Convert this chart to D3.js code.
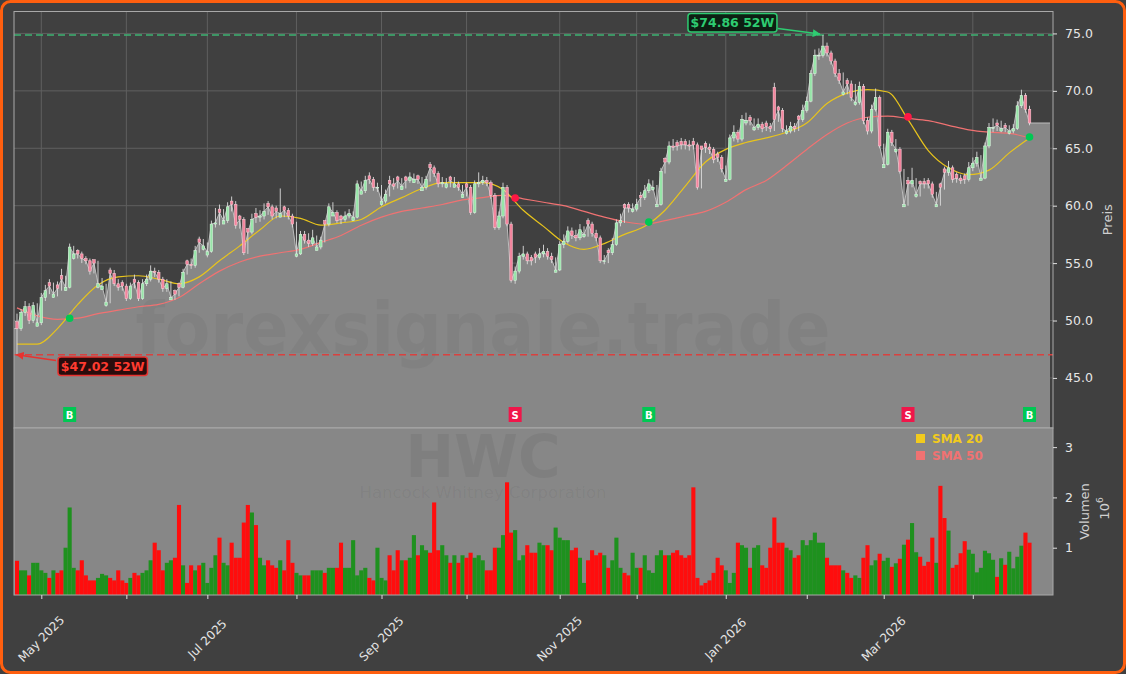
<!DOCTYPE html>
<html>
<head>
<meta charset="utf-8">
<script src="https://cdn.jsdelivr.net/npm/d3@7"></script>
<style>
  body { margin: 0; background: #404040; }
  svg text { font-family: "DejaVu Sans", sans-serif; }
</style>
</head>
<body>
<script>
var w = 1126, h = 674;

// trading calendar (NYSE holidays inside the window)
var holidays = ["2025-05-26", "2025-06-19", "2025-07-04", "2025-09-01", "2025-11-27",
                "2025-12-25", "2026-01-01", "2026-01-19", "2026-02-16", "2026-04-03"];
var tickLabels = ["May 2025", "Jul 2025", "Sep 2025", "Nov 2025", "Jan 2026", "Mar 2026"];
var priceTicks = [45, 50, 55, 60, 65, 70, 75];
var volTicks = [1, 2, 3];

// daily candles
var opens = [49.9,49.3,50.7,51.2,50.0,49.5,49.8,52.0,53.3,52.0, 53.1,53.9,52.6,52.9,55.4,56.1,55.8,55.4,55.2,55.3,
  52.9,52.7,51.3,54.4,54.1,53.2,53.3,53.0,51.9,53.6, 53.3,51.9,53.2,53.6,54.3,54.2,53.6,52.8,51.8,52.6,
  53.2,52.9,55.2,54.9,54.8,57.1,56.2,55.7,56.0,58.4, 59.7,58.4,58.7,60.4,60.1,59.1,58.8,58.0,57.7,59.3,
  59.0,59.1,60.2,59.9,59.8,59.0,59.9,59.6,59.1,55.6, 55.8,57.5,57.0,56.7,56.1,56.4,58.7,58.4,59.1,59.4,
  59.1,58.8,59.1,58.7,59.0,61.0,61.3,62.6,62.3,61.6, 60.1,60.4,62.2,61.9,62.5,61.4,62.5,62.2,62.0,62.6,
  61.3,61.6,63.6,63.3,62.8,61.9,61.6,62.5,61.6,61.9, 60.7,61.9,61.6,59.4,61.9,62.0,62.2,62.0,60.9,58.1,
  59.1,61.6,58.4,53.5,54.3,55.6,55.8,55.5,55.8,55.5, 55.8,56.0,55.6,54.2,54.4,56.6,56.9,57.8,57.4,57.2,
  57.3,58.7,58.4,57.6,57.2,55.2,56.1,55.9,56.6,58.5, 60.1,60.1,59.5,59.7,60.9,60.7,61.3,61.4,59.9,60.1,
  64.1,63.8,65.2,65.5,65.6,65.6,65.3,65.6,65.3,65.2, 65.4,65.1,64.9,64.5,64.2,62.1,62.3,65.9,66.4,65.8,
  67.2,67.7,66.6,66.8,67.1,67.2,66.9,70.3,68.6,68.3, 66.3,66.5,66.9,67.8,67.5,68.3,69.1,71.5,73.1,73.1,
  73.9,73.3,72.6,71.5,69.7,70.9,70.6,68.8,69.0,70.4, 67.4,66.5,68.4,69.4,63.3,63.6,66.4,64.7,64.9,59.9,
  62.2,61.9,60.8,62.1,62.1,62.2,61.9,59.9,61.9,63.2, 62.9,63.3,62.7,62.4,62.6,62.3,63.3,63.7,62.2,62.4,
  65.2,66.8,67.2,66.5,67.0,66.3,66.5,66.7,68.7,69.6, 68.4];
var highs = [50.6,51.0,51.7,51.5,51.6,51.5,52.4,53.1,53.6,53.3, 53.4,54.5,53.9,56.7,56.5,56.2,56.0,55.6,55.4,55.3,
  55.2,53.7,53.2,54.6,54.4,53.6,53.5,53.2,53.3,54.0, 53.5,53.6,54.0,54.8,54.6,54.4,53.8,53.6,53.4,52.7,
  53.3,54.5,55.3,55.4,56.5,57.3,57.1,56.8,58.7,59.8, 60.1,59.7,60.3,60.8,60.4,59.2,59.0,58.0,59.3,59.8,
  59.6,60.2,60.4,60.1,60.0,61.5,60.0,59.8,59.3,58.6, 57.8,57.8,57.6,57.9,57.4,57.3,58.7,60.2,60.3,59.6,
  59.2,59.5,59.7,59.5,62.2,62.1,62.6,62.9,62.5,62.0, 61.8,61.4,62.6,62.4,62.6,62.4,62.6,62.9,62.8,62.7,
  62.5,62.6,63.8,63.5,63.0,62.5,62.4,62.6,62.5,62.1, 61.8,62.0,61.8,62.2,62.9,62.6,62.5,62.2,61.1,59.5,
  62.0,61.8,58.6,54.7,55.9,56.5,56.0,55.7,56.0,56.3, 56.6,56.3,55.9,55.5,56.9,57.5,58.2,58.1,57.9,58.4,
  58.2,58.9,58.6,57.9,57.4,55.7,56.3,57.2,58.8,59.3, 60.2,60.3,60.2,60.6,61.2,61.8,62.3,62.2,61.8,63.3,
  64.2,65.6,65.8,65.7,65.9,65.8,65.7,65.9,65.5,65.2, 65.6,65.4,65.1,64.7,64.4,63.5,66.2,67.0,66.6,67.9,
  68.1,67.9,67.6,67.6,67.3,67.4,67.2,70.7,68.7,68.5, 67.0,67.3,67.2,67.9,68.8,69.5,71.8,73.6,73.7,74.86,
  74.2,73.5,72.8,71.9,71.6,71.1,70.9,70.6,70.8,70.6, 67.7,68.8,70.2,69.6,65.4,66.7,66.6,65.8,65.1,63.2,
  62.5,63.3,62.4,62.2,62.4,62.4,62.1,61.2,62.0,63.4, 63.9,63.5,62.9,62.7,62.8,63.8,64.2,64.7,64.4,65.5,
  67.2,67.6,67.5,67.4,67.2,67.0,67.1,69.1,70.1,69.8, 68.7];
var lows = [47.02,49.1,50.4,49.7,49.8,49.5,49.6,51.7,52.3,52.0, 52.1,52.6,52.6,52.8,55.3,55.4,55.0,54.9,54.0,54.1,
  52.8,52.7,51.2,51.5,53.0,52.6,52.6,51.7,51.8,52.8, 51.7,51.8,53.0,53.4,53.8,53.3,52.5,52.5,51.8,51.8,
  52.1,52.8,54.0,54.5,54.6,55.9,56.1,55.5,55.9,58.1, 58.3,58.4,58.5,59.5,58.0,58.0,55.7,55.8,57.5,58.5,
  58.6,58.8,59.2,58.8,58.9,59.0,59.0,58.8,58.1,55.5, 55.7,56.7,56.4,56.5,56.1,56.2,56.8,58.2,59.1,58.5,
  58.4,58.6,58.9,58.7,58.9,61.0,61.1,61.9,61.3,61.2, 60.0,60.2,60.8,61.4,61.5,61.4,61.5,62.0,62.0,61.9,
  61.3,61.4,62.1,62.5,61.6,61.6,61.5,61.6,61.6,61.3, 60.7,60.8,59.2,59.3,61.6,61.8,61.7,60.6,57.9,57.9,
  58.9,58.2,53.3,53.2,54.1,55.3,54.9,54.8,55.0,55.3, 55.5,55.3,55.0,54.2,54.3,56.3,56.7,57.1,56.9,57.0,
  57.2,57.3,57.3,56.9,55.0,54.9,55.0,55.7,56.5,58.2, 58.5,59.4,59.4,59.5,59.9,60.5,61.1,61.3,59.9,60.0,
  62.8,63.6,64.8,64.8,64.9,64.9,64.8,64.9,61.4,61.5, 64.6,64.5,63.7,63.8,62.9,62.1,62.2,65.6,65.5,65.6,
  67.0,67.0,66.5,66.6,66.4,66.5,66.4,66.5,67.3,66.4, 66.2,66.3,66.4,66.5,67.3,68.1,69.0,71.3,72.7,72.9,
  73.0,72.3,71.2,70.6,69.6,69.7,69.1,68.7,68.8,67.1, 66.2,66.3,68.2,65.0,63.3,63.5,65.2,64.6,62.8,59.9,
  60.0,61.6,60.7,60.8,61.5,61.5,60.7,59.9,60.0,61.4, 62.6,62.0,62.0,61.9,61.9,62.1,63.0,63.4,62.2,62.3,
  65.0,66.4,66.5,66.4,66.4,66.2,66.3,66.6,68.5,68.1, 67.0];
var closes = [49.3,50.7,51.2,50.0,51.3,49.8,52.0,52.6,53.0,52.3, 52.8,53.6,52.9,56.4,55.8,55.8,55.4,55.2,54.3,55.0,
  53.2,53.0,51.6,54.1,53.2,52.9,53.0,51.9,53.0,53.3, 51.9,53.2,53.6,54.3,54.2,53.6,52.8,53.2,52.0,52.3,
  52.9,54.2,54.9,54.8,56.1,56.8,56.5,56.0,58.4,58.5, 59.4,58.7,59.9,60.1,58.3,58.8,55.9,57.7,58.8,59.0,
  59.1,59.5,59.9,59.1,59.5,59.3,59.6,59.1,58.4,55.8, 57.5,57.0,56.7,57.2,56.4,57.0,58.4,59.9,59.4,58.7,
  58.8,59.1,59.3,59.0,61.9,61.3,62.2,62.3,61.6,61.6, 60.4,61.0,61.9,61.7,62.2,61.7,62.2,62.5,62.3,62.3,
  61.6,62.3,63.3,62.8,61.9,62.0,61.9,62.2,61.9,61.6, 61.0,61.6,59.4,61.9,62.0,62.2,62.0,60.9,58.1,59.1,
  61.6,58.4,53.5,54.3,55.6,55.8,55.2,55.2,55.5,55.8, 56.0,55.6,55.3,54.4,56.6,56.9,57.8,57.4,57.2,57.9,
  57.5,58.4,57.6,57.2,55.2,55.2,55.9,56.6,58.5,58.7, 59.8,59.8,59.7,60.1,60.7,61.3,61.9,61.6,60.1,63.0,
  63.8,65.2,65.1,65.2,65.3,65.3,65.2,65.3,61.6,64.9, 65.1,64.9,64.0,64.2,63.2,62.3,65.9,66.4,65.8,67.5,
  67.4,67.4,66.8,67.1,66.7,66.9,66.7,67.5,68.3,66.7, 66.5,66.9,66.7,67.5,68.3,69.1,71.5,73.1,73.1,73.9,
  73.3,72.6,71.5,70.9,69.9,70.6,69.4,69.0,70.4,67.4, 66.5,68.4,69.4,65.2,63.6,66.4,65.5,64.9,63.0,60.1,
  61.9,62.2,61.0,61.9,61.9,61.9,61.0,60.1,61.6,62.9, 63.3,62.3,62.4,62.2,62.3,63.3,63.7,64.2,62.4,65.2,
  66.8,66.8,67.0,66.7,66.8,66.5,66.7,68.7,69.6,68.4, 67.2];
// volume in millions
var volumes = [0.74,0.55,0.55,0.45,0.7,0.7,0.55,0.5,0.4,0.55, 0.5,0.55,1.0,1.8,0.6,0.55,0.75,0.45,0.35,0.35,
  0.4,0.48,0.45,0.4,0.35,0.55,0.35,0.3,0.4,0.5, 0.45,0.5,0.55,0.75,1.1,0.95,0.55,0.7,0.75,0.8,
  1.85,0.65,0.3,0.65,0.55,0.65,0.7,0.3,0.6,0.85, 1.2,0.7,0.65,1.1,0.8,0.8,1.5,1.85,1.7,1.45,
  0.8,0.65,0.75,0.65,0.6,0.75,0.55,1.15,0.7,0.5, 0.45,0.45,0.45,0.55,0.55,0.55,0.5,0.6,0.6,0.6,
  1.1,0.6,0.6,1.15,0.45,0.55,0.6,0.4,0.35,1.0, 0.4,0.35,0.85,0.55,0.95,0.75,0.75,0.8,1.25,0.85,
  1.05,0.95,0.9,1.9,0.95,1.05,0.85,0.7,0.85,0.7, 0.85,0.8,0.9,0.8,0.85,0.75,0.55,0.55,1.0,1.0,
  1.25,2.3,1.3,1.35,0.75,0.85,1.05,0.9,0.9,1.1, 1.05,1.05,0.95,1.4,1.2,1.15,1.15,0.95,1.0,0.8,
  0.3,0.75,0.95,0.85,0.9,0.85,0.6,0.75,1.2,0.6, 0.5,0.45,0.9,0.6,0.6,0.85,0.55,0.5,0.85,0.95,
  0.85,0.85,0.9,0.95,0.85,0.8,0.85,2.2,0.4,0.25, 0.3,0.35,0.5,0.8,0.65,0.55,0.3,0.5,1.1,1.05,
  1.0,0.6,1.0,1.05,0.65,0.6,1.0,1.6,1.1,1.1, 1.0,0.95,0.8,0.85,1.15,1.05,1.15,1.3,1.1,1.1,
  0.8,0.65,0.65,0.65,0.55,0.5,0.4,0.45,0.4,0.8, 1.05,0.65,0.75,0.88,0.74,0.8,0.62,0.69,0.78,1.06,
  1.16,1.49,0.91,0.82,0.64,0.72,1.2,0.7,2.23,1.59, 1.34,0.6,0.66,0.89,1.13,0.96,0.88,0.51,0.6,0.94,
  0.89,0.76,0.42,0.79,0.66,0.92,0.59,0.82,1.04,1.3, 1.1];

// moving averages, read every 5 trading days
var smaStep = 5;
var sma20 = [47.95,47.95,49.3,51.4,53.1,53.8,53.9,53.6,53.2,53.8, 55.2,56.5,57.9,59.1,58.9,58.3,58.5,58.8,59.9,60.7,
  61.5,62.0,62.0,62.0,61.4,59.6,58.2,56.8,56.2,56.7, 57.5,58.2,59.6,61.7,63.8,64.9,65.5,65.9,66.4,67.2,
  68.9,69.8,70.1,69.9,67.5,64.8,63.3,62.7,63.1,64.6, 65.9];
var sma50 = [51.1,50.4,50.1,50.2,50.6,50.9,51.2,51.4,52.0,53.2, 54.3,55.1,55.6,55.9,56.2,56.8,57.4,58.3,59.0,59.5,
  59.8,60.1,60.5,60.7,60.9,60.6,60.3,60.0,59.5,59.0, 58.6,58.4,58.7,59.1,59.5,60.3,61.4,62.2,63.5,64.9,
  66.2,67.2,67.7,67.8,67.6,67.4,67.0,66.6,66.4,66.3, 65.9];

// SMA crossings: day index, type, price of the cross
var signals = [
  {i: 13, t: "B", p: 50.2},
  {i: 123, t: "S", p: 60.66},
  {i: 156, t: "B", p: 58.57},
  {i: 220, t: "S", p: 67.73},
  {i: 250, t: "B", p: 65.98}
];

var hi52 = 74.86, lo52 = 47.02;

function iso(d) { return d3.timeFormat("%Y-%m-%d")(d); }
var dates = [];
for (var d = new Date(2025, 3, 23); d <= new Date(2026, 3, 22); d.setDate(d.getDate() + 1)) {
  var wd = d.getDay();
  if (wd == 0 || wd == 6) continue;
  if (holidays.indexOf(iso(d)) >= 0) continue;
  dates.push(new Date(d));
}
var n = closes.length;
if (dates.length != n || opens.length != n || highs.length != n || lows.length != n || volumes.length != n)
  throw new Error("length mismatch " + [dates.length, opens.length, highs.length, lows.length, closes.length, volumes.length]);

// month starts for ticks
var monthIdx = [];
for (var i = 1; i < n; i++) if (dates[i].getMonth() != dates[i - 1].getMonth()) monthIdx.push(i);
var fmtMonth = d3.timeFormat("%b %Y");

var L = 14, R = 1053, T = 11.5, M = 428, B = 595;
var x = d3.scaleLinear().domain([-0.74, 255.8]).range([L, R]);
var yP = d3.scaleLinear().domain([40.64, 76.91]).range([M, T]);
var yV = d3.scaleLinear().domain([0.06, 3.38]).range([B, M]);

var svg = d3.select("body").append("svg").attr("width", w).attr("height", h);
var defs = svg.append("defs");
function arrowHead(id, col) {
  defs.append("marker").attr("id", id).attr("viewBox", "0 0 10 10").attr("refX", 9).attr("refY", 5)
      .attr("markerWidth", 5).attr("markerHeight", 5).attr("orient", "auto")
      .append("path").attr("d", "M0,0 L10,5 L0,10 z").attr("fill", col);
}
arrowHead("arrG", "#2ecc71");
arrowHead("arrR", "#e8322f");
defs.append("clipPath").attr("id", "clipP").append("rect")
    .attr("x", L).attr("y", T).attr("width", R - L).attr("height", M - T);

svg.append("rect").attr("x", 1.5).attr("y", 1.5).attr("width", w - 3).attr("height", h - 3)
   .attr("rx", 9).attr("fill", "#404040").attr("stroke", "#ff5f0f").attr("stroke-width", 3);

// ---------- price panel ----------
var pg = svg.append("g").attr("clip-path", "url(#clipP)");
pg.selectAll(".hgrid").data(priceTicks).enter().append("line")
  .attr("x1", L).attr("x2", R).attr("y1", d => yP(d)).attr("y2", d => yP(d))
  .attr("stroke", "#5f5f5f").attr("stroke-width", 1);
pg.selectAll(".vgrid").data(monthIdx).enter().append("line")
  .attr("x1", d => x(d)).attr("x2", d => x(d)).attr("y1", T).attr("y2", M)
  .attr("stroke", "#5f5f5f").attr("stroke-width", 1);

var fillPts = [[x.domain()[0], closes[0]]]
  .concat(closes.map((c, i) => [i, c]))
  .concat([[255.06, closes[n - 1]]]);
pg.append("path").datum(fillPts)
  .attr("d", d3.area().x(d => x(d[0])).y0(M).y1(d => yP(d[1])))
  .attr("fill", "#878787");
pg.append("path").datum(fillPts)
  .attr("d", d3.line().x(d => x(d[0])).y(d => yP(d[1])))
  .attr("fill", "none").attr("stroke", "#bdbdbd").attr("stroke-width", 1);

// watermark
pg.append("text").attr("x", 483).attr("y", 353).attr("text-anchor", "middle")
  .attr("font-size", 72).attr("font-weight", "bold").attr("textLength", 695).attr("lengthAdjust", "spacingAndGlyphs")
  .attr("fill", "#000").attr("fill-opacity", 0.045).text("forexsignale.trade");

// 52 week lines
pg.append("line").attr("x1", L).attr("x2", R).attr("y1", yP(hi52)).attr("y2", yP(hi52))
  .attr("stroke", "#3cb371").attr("stroke-width", 1.5).attr("stroke-dasharray", "7,4");
pg.append("line").attr("x1", L).attr("x2", R).attr("y1", yP(lo52)).attr("y2", yP(lo52))
  .attr("stroke", "#d9413f").attr("stroke-width", 1.5).attr("stroke-dasharray", "7,4");

// moving averages
var smaLine = d3.line().x((d, k) => x(k * smaStep)).y(d => yP(d)).curve(d3.curveMonotoneX);
pg.append("path").datum(sma50).attr("d", smaLine).attr("fill", "none")
  .attr("stroke", "#f07272").attr("stroke-width", 1.2);
pg.append("path").datum(sma20).attr("d", smaLine).attr("fill", "none")
  .attr("stroke", "#e8c41c").attr("stroke-width", 1.2);

// candles
var cg = pg.append("g");
cg.selectAll(".wick").data(closes).enter().append("line")
  .attr("x1", (d, i) => x(i)).attr("x2", (d, i) => x(i))
  .attr("y1", (d, i) => yP(highs[i])).attr("y2", (d, i) => yP(lows[i]))
  .attr("stroke", "#dcdcdc").attr("stroke-width", 0.9);
cg.selectAll(".body").data(closes).enter().append("rect")
  .attr("x", (d, i) => x(i) - 1.3).attr("width", 2.6)
  .attr("y", (d, i) => yP(Math.max(opens[i], d)))
  .attr("height", (d, i) => Math.max(0.8, Math.abs(yP(opens[i]) - yP(d))))
  .attr("fill", (d, i) => d >= opens[i] ? "#97e6a8" : "#f4849d")
  .attr("stroke", (d, i) => d >= opens[i] ? "#e2f7e6" : "#ffd0da").attr("stroke-width", 0.5);

// crossing dots and signal boxes
pg.selectAll(".dot").data(signals).enter().append("circle")
  .attr("cx", d => x(d.i)).attr("cy", d => yP(d.p)).attr("r", 3.8)
  .attr("fill", d => d.t == "B" ? "#00c853" : "#ff1744");
var sg = pg.selectAll(".sig").data(signals).enter().append("g")
  .attr("transform", d => "translate(" + x(d.i) + ",414.5)");
sg.append("rect").attr("x", -6.5).attr("y", -7.5).attr("width", 13).attr("height", 15)
  .attr("fill", d => d.t == "B" ? "#00c853" : "#f0164a");
sg.append("text").attr("text-anchor", "middle").attr("y", 4).attr("font-size", 10)
  .attr("font-weight", "bold").attr("fill", "#fff").text(d => d.t);

// 52W annotations
var hiIdx = highs.indexOf(d3.max(highs)), loIdx = lows.indexOf(d3.min(lows));
var hx = x(hiIdx) - 135, hy = 13.5;
svg.append("line").attr("x1", hx + 90).attr("y1", hy + 15).attr("x2", x(hiIdx) - 3).attr("y2", yP(hi52) - 1)
   .attr("stroke", "#2ecc71").attr("stroke-width", 1.6).attr("marker-end", "url(#arrG)");
svg.append("rect").attr("x", hx).attr("y", hy).attr("width", 89).attr("height", 18.5).attr("rx", 3)
   .attr("fill", "#0d1f13").attr("stroke", "#2ecc71").attr("stroke-width", 1.5);
svg.append("text").attr("x", hx + 44.5).attr("y", hy + 13.5).attr("text-anchor", "middle")
   .attr("font-size", 12.5).attr("font-weight", "bold").attr("fill", "#2ecc71").text("$" + hi52.toFixed(2) + " 52W");

var lx = x(loIdx) + 41, ly = 357;
svg.append("line").attr("x1", lx - 2).attr("y1", ly + 3.5).attr("x2", x(loIdx) - 0.5).attr("y2", yP(lo52))
   .attr("stroke", "#e8322f").attr("stroke-width", 1.6).attr("marker-end", "url(#arrR)");
svg.append("rect").attr("x", lx).attr("y", ly).attr("width", 89.5).attr("height", 18.5).attr("rx", 3)
   .attr("fill", "#2a0c0c").attr("stroke", "#e8322f").attr("stroke-width", 1.5);
svg.append("text").attr("x", lx + 44.7).attr("y", ly + 13.5).attr("text-anchor", "middle")
   .attr("font-size", 12.5).attr("font-weight", "bold").attr("fill", "#ff3b30").text("$" + lo52.toFixed(2) + " 52W");

svg.append("rect").attr("x", L).attr("y", T).attr("width", R - L).attr("height", M - T)
   .attr("fill", "none").attr("stroke", "#a9a9a9").attr("stroke-width", 1);

// ---------- volume panel ----------
svg.append("rect").attr("x", L).attr("y", M).attr("width", R - L).attr("height", B - M).attr("fill", "#878787");
svg.append("text").attr("x", 483).attr("y", 477).attr("text-anchor", "middle")
   .attr("font-size", 58).attr("font-weight", "bold").attr("fill", "#000").attr("fill-opacity", 0.06).text("HWC");
svg.append("text").attr("x", 483).attr("y", 498).attr("text-anchor", "middle")
   .attr("font-size", 15).attr("textLength", 247).attr("lengthAdjust", "spacingAndGlyphs")
   .attr("fill", "#000").attr("fill-opacity", 0.05).text("Hancock Whitney Corporation");

svg.selectAll(".vol").data(volumes).enter().append("rect")
  .attr("x", (d, i) => x(i) - 2.05).attr("width", 4.1)
  .attr("y", d => yV(d)).attr("height", d => B - yV(d))
  .attr("fill", (d, i) => closes[i] >= opens[i] ? "#1e911e" : "#ff0d0d");

var legend = svg.selectAll(".legend").data([["SMA 20", "#f2cb1d"], ["SMA 50", "#f07272"]]).enter().append("g")
  .attr("transform", (d, i) => "translate(916," + (434 + i * 17) + ")");
legend.append("rect").attr("width", 9).attr("height", 9).attr("fill", d => d[1]);
legend.append("text").attr("x", 16).attr("y", 8.6).attr("font-size", 12).attr("font-weight", "bold")
  .attr("fill", d => d[1]).text(d => d[0]);

svg.append("rect").attr("x", L).attr("y", M).attr("width", R - L).attr("height", B - M)
   .attr("fill", "none").attr("stroke", "#a9a9a9").attr("stroke-width", 1);

// ---------- axes ----------
var axP = svg.append("g").attr("transform", "translate(" + R + ",0)")
  .call(d3.axisRight(yP).tickValues(priceTicks).tickFormat(d3.format(".1f")).tickSize(4).tickPadding(8));
var axV = svg.append("g").attr("transform", "translate(" + R + ",0)")
  .call(d3.axisRight(yV).tickValues(volTicks).tickFormat(d3.format("d")).tickSize(4).tickPadding(8));
var axX = svg.append("g").attr("transform", "translate(0," + B + ")")
  .call(d3.axisBottom(x).tickValues(monthIdx).tickFormat("").tickSize(4));
[axP, axV, axX].forEach(function(a) {
  a.select(".domain").remove();
  a.selectAll("line").attr("stroke", "#e0e0e0");
  a.selectAll("text").attr("fill", "#e6e6e6").attr("font-size", 12.5).attr("font-family", "DejaVu Sans");
});

var labIdx = monthIdx.filter(i => tickLabels.indexOf(fmtMonth(dates[i])) >= 0);
svg.selectAll(".xlab").data(labIdx).enter().append("text")
  .attr("transform", d => "translate(" + x(d) + ",639) rotate(-45)")
  .attr("text-anchor", "middle").attr("dominant-baseline", "central")
  .attr("font-size", 12).attr("fill", "#e6e6e6").text(d => fmtMonth(dates[d]));

svg.append("text").attr("transform", "translate(1112," + (T + M) / 2 + ") rotate(-90)")
   .attr("text-anchor", "middle").attr("font-size", 13).attr("fill", "#d0d0d0").text("Preis");
svg.append("text").attr("transform", "translate(1089," + (M + B) / 2 + ") rotate(-90)")
   .attr("text-anchor", "middle").attr("font-size", 13).attr("fill", "#d0d0d0").text("Volumen");
var exp = svg.append("text").attr("transform", "translate(1109," + ((M + B) / 2 - 3) + ") rotate(-90)")
   .attr("text-anchor", "middle").attr("font-size", 13).attr("fill", "#d0d0d0");
exp.append("tspan").text("10");
exp.append("tspan").attr("dy", -6).attr("font-size", 9).text("6");
</script>
</body>
</html>
